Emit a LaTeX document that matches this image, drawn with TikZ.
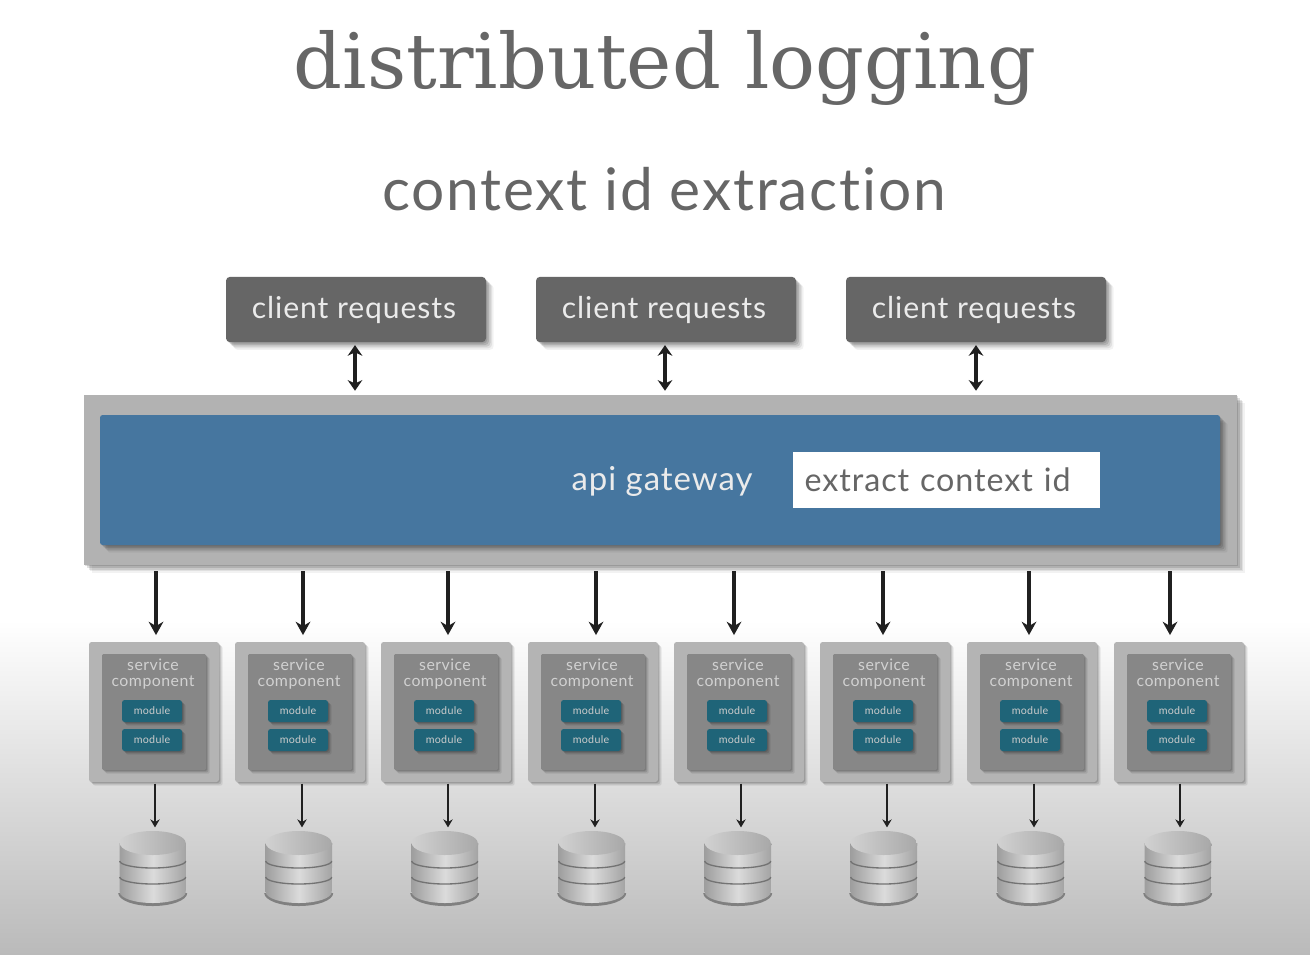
\documentclass[tikz,border=0pt]{standalone}
\usepackage{fontspec}
\setsansfont{Lato}[Ligatures=NoCommon,LetterSpace=3]
\newfontfamily\titlefont{DejaVu Serif}
\usetikzlibrary{arrows.meta,shadows}
\definecolor{titlegray}{HTML}{666666}
\definecolor{clientgray}{HTML}{666666}
\definecolor{gatewayblue}{HTML}{46769F}
\definecolor{framegray}{HTML}{B2B2B2}
\definecolor{svcouter}{HTML}{B4B4B4}
\definecolor{svcinner}{HTML}{878787}
\definecolor{moduleteal}{HTML}{1F6478}
\definecolor{arrowblack}{HTML}{202020}
\tikzset{
	softshadow/.style={
		general shadow={shadow xshift=1pt,shadow yshift=-1pt,opacity=.12,fill=black},
		general shadow={shadow xshift=2.2pt,shadow yshift=-2.2pt,opacity=.12,fill=black},
		general shadow={shadow xshift=3.4pt,shadow yshift=-3.4pt,opacity=.10,fill=black},
		general shadow={shadow xshift=4.6pt,shadow yshift=-4.6pt,opacity=.07,fill=black},
		general shadow={shadow xshift=5.8pt,shadow yshift=-5.8pt,opacity=.05,fill=black}},
	smallshadow/.style={
		general shadow={shadow xshift=.8pt,shadow yshift=-.8pt,opacity=.14,fill=black},
		general shadow={shadow xshift=1.8pt,shadow yshift=-1.8pt,opacity=.12,fill=black},
		general shadow={shadow xshift=2.8pt,shadow yshift=-2.8pt,opacity=.08,fill=black}},
	clientbox/.style={softshadow,fill=clientgray,rounded corners=3pt,minimum width=195pt,minimum height=49pt,inner sep=0,text=white!92!black,font=\sffamily\fontsize{22.6}{24}\selectfont},
	svcbox/.style={smallshadow,fill=svcouter,rounded corners=2pt,minimum width=97.5pt,minimum height=105pt,inner sep=0},
	svcpanel/.style={smallshadow,fill=svcinner,rounded corners=1pt,minimum width=78pt,minimum height=87pt,inner sep=0},
	svctext/.style={text=white!82!black,align=center,inner sep=0,font=\sffamily\fontsize{11.9}{12.6}\selectfont},
	modbox/.style={smallshadow,fill=moduleteal,rounded corners=2pt,minimum width=45pt,minimum height=16.5pt,inner sep=0,text=white!80!black,font=\sffamily\fontsize{8}{8}\selectfont},
	bigarrow/.style={draw=arrowblack,line width=2.6pt,-{Stealth[length=10pt,width=11pt]}},
	botharrow/.style={draw=arrowblack,line width=2.8pt,{Stealth[length=8pt,width=11pt]}-{Stealth[length=8pt,width=11pt]}},
	smallarrow/.style={draw=arrowblack,line width=1.4pt,-{Stealth[length=6pt,width=7pt]}},
}

\begin{document}
\begin{tikzpicture}[x=0.75pt,y=-0.75pt]
	%%%%% START %%%%%
	\useasboundingbox (0,0) rectangle (1310,954);
	\fill[white] (0,0) rectangle (1310,954);
	\shade[top color=white,bottom color=black!27] (0,620) rectangle (1310,954);

	\node[text=titlegray,font=\titlefont\fontsize{57.3}{62}\selectfont] (title) at (665,68) {distributed logging};
	\node[text=titlegray,font=\sffamily\fontsize{44}{46}\selectfont] (subtitle) at (664,189) {context id extraction};

	% gateway
	\node[softshadow,fill=framegray,minimum width=864.75pt,minimum height=127.5pt,inner sep=0] (gwframe) at (660.5,480) {};
	\node[softshadow,fill=gatewayblue,rounded corners=2pt,minimum width=840pt,minimum height=97.5pt,inner sep=0] (gateway) at (660,480) {};
	\node[text=white!92!black,font=\sffamily\fontsize{24.7}{27}\selectfont] (gwlabel) at (662,481) {api gateway};
	\node[fill=white,minimum width=230pt,minimum height=42pt,inner xsep=8.5pt,inner ysep=0,text width=213pt,align=left,text=titlegray,font=\sffamily\fontsize{24.2}{27}\selectfont] (extract) at (946.5,480) {extract context id};

	% client requests on top
	\foreach \i/\cx/\ax in {1/356/355,2/666/665,3/976/976} {
		\node[clientbox] (client\i) at (\cx,309.5) {client requests\kern3pt};
		\coordinate (ca\i) at (\ax,0);
		\draw[botharrow,shorten <=2pt,shorten >=3pt] (client\i.south -| ca\i) -- (gwframe.north -| ca\i);
	}

	% services and their stores
	\foreach \i/\cx/\ax/\bx in {1/154/156/155,2/300/303/302,3/446/448/448,4/593/596/595,5/739/734/741,6/885/883/887,7/1032/1029/1034,8/1179/1170/1180} {
		\node[svcbox] (svc\i) at (\cx,712) {};
		\node[svcpanel] (panel\i) at (\cx,712) {};
		\node[svctext] (svctext\i) at (\cx-1,674) {service\\component};
		\node[modbox] (modtop\i) at (\cx-2,711) {module};
		\node[modbox] (modlow\i) at (\cx-2,740) {module};

		\node[minimum width=49.5pt,minimum height=57pt,inner sep=0] (store\i) at (\cx-1,867) {};
		\fill[black!50] (store\i.west |- 0,893) ++(-1.5,0) arc[start angle=180,end angle=0,x radius=34.5,y radius=13] -- cycle;
		\shade[left color=black!38,right color=black!36,middle color=black!14] (store\i.west |- 0,843) -- (store\i.west |- 0,892)
			arc[start angle=180,end angle=0,x radius=33,y radius=11] -- (store\i.east |- 0,843) -- cycle;
		\shade[left color=black!18,right color=black!34] (store\i.west |- 0,843) arc[start angle=180,end angle=540,x radius=33,y radius=12];
		\foreach \ry/\rb in {861/7,877/7} {
			\draw[black!55,line width=1pt] (store\i.west |- 0,\ry) arc[start angle=180,end angle=0,x radius=33,y radius=\rb];
		}

		\coordinate (ga\i) at (\ax,0);
		\coordinate (sa\i) at (\bx,0);
		\draw[bigarrow,shorten <=4.5pt,shorten >=5pt] (gwframe.south -| ga\i) -- (svc\i.north -| ga\i);
		\draw[smallarrow,shorten <=1pt,shorten >=1pt] (svc\i.south -| sa\i) -- (store\i.north -| sa\i);
	}
	%%%%% END %%%%%
\end{tikzpicture}
\end{document}
